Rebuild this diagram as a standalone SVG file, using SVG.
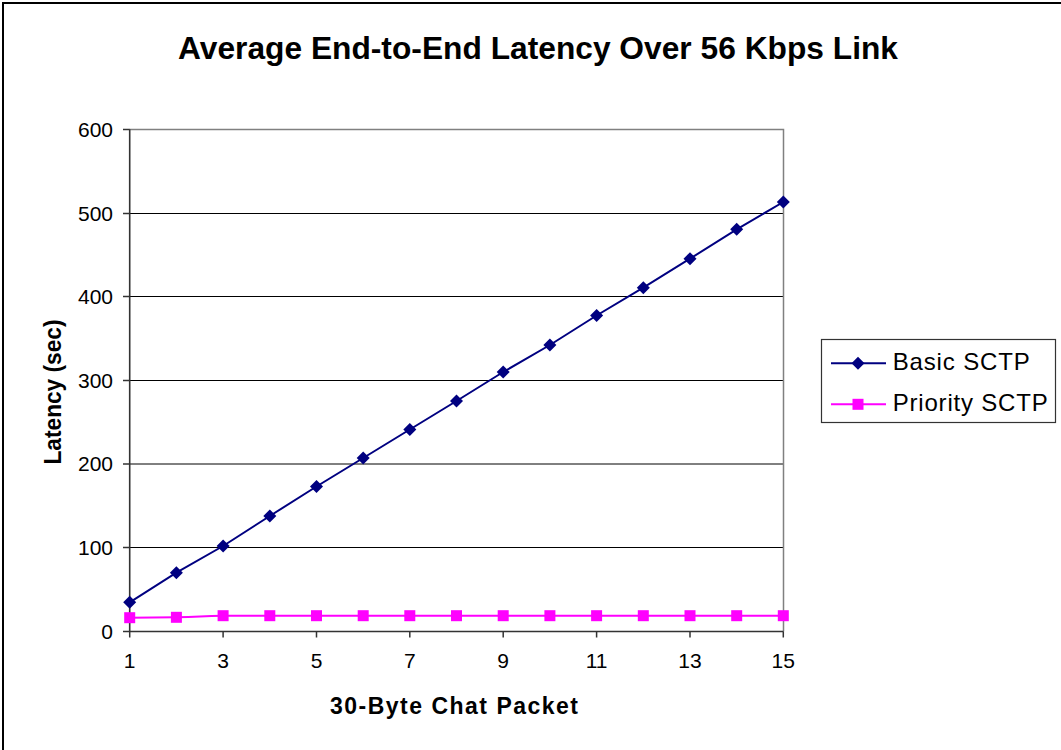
<svg xmlns="http://www.w3.org/2000/svg" width="1061" height="750" viewBox="0 0 1061 750">
<defs>
<style>
text{font-family:"Liberation Sans",Arial,sans-serif;fill:#000}
.tick{font-size:21px}
.ttl{font-size:32px;font-weight:bold}
.axt{font-size:23px;font-weight:bold}
.leg{font-size:24px}
.grid{stroke:#000;stroke-width:1}
.axis{stroke:#333;stroke-width:1.6;fill:none}
.basic{stroke:#000080;stroke-width:2;fill:none}
.prio{stroke:#FF00FF;stroke-width:2;fill:none}
</style>
<path id="dia" d="M0,-6.5 L6.5,0 L0,6.5 L-6.5,0 Z" fill="#000080"/>
<rect id="sq" x="-5.5" y="-5.5" width="11" height="11" fill="#FF00FF"/>
</defs>
<rect x="0" y="0" width="1061" height="750" fill="#fff"/>
<rect x="3" y="3" width="1100" height="800" fill="none" stroke="#000" stroke-width="2"/>
<g id="title"><text class="ttl" x="178" y="59" textLength="720" lengthAdjust="spacingAndGlyphs">Average End-to-End Latency Over 56 Kbps Link</text></g>
<g id="plot">
<line class="grid" x1="129.5" y1="547.5" x2="783.5" y2="547.5"/>
<line class="grid" x1="129.5" y1="464" x2="783.5" y2="464"/>
<line class="grid" x1="129.5" y1="380.5" x2="783.5" y2="380.5"/>
<line class="grid" x1="129.5" y1="296.5" x2="783.5" y2="296.5"/>
<line class="grid" x1="129.5" y1="213.5" x2="783.5" y2="213.5"/>
<path d="M129.5,129.5 H783.5 V631.5" fill="none" stroke="#808080" stroke-width="1.5"/>
<path class="axis" d="M129.7,129.3 V631.5 H783.5"/>
<g stroke="#333" stroke-width="1.5">
<line x1="123" y1="631.5" x2="129.7" y2="631.5"/>
<line x1="123" y1="547.5" x2="129.7" y2="547.5"/>
<line x1="123" y1="464" x2="129.7" y2="464"/>
<line x1="123" y1="380.5" x2="129.7" y2="380.5"/>
<line x1="123" y1="296.5" x2="129.7" y2="296.5"/>
<line x1="123" y1="213.5" x2="129.7" y2="213.5"/>
<line x1="123" y1="129.5" x2="129.7" y2="129.5"/>
<line x1="129.7" y1="631.5" x2="129.7" y2="637.5"/>
<line x1="223.1" y1="631.5" x2="223.1" y2="637.5"/>
<line x1="316.5" y1="631.5" x2="316.5" y2="637.5"/>
<line x1="409.8" y1="631.5" x2="409.8" y2="637.5"/>
<line x1="503.2" y1="631.5" x2="503.2" y2="637.5"/>
<line x1="596.6" y1="631.5" x2="596.6" y2="637.5"/>
<line x1="690" y1="631.5" x2="690" y2="637.5"/>
<line x1="783.3" y1="631.5" x2="783.3" y2="637.5"/>
</g>
<g class="tick" text-anchor="end">
<text x="113" y="638.5">0</text>
<text x="113" y="554.5">100</text>
<text x="113" y="471">200</text>
<text x="113" y="387.5">300</text>
<text x="113" y="303.5">400</text>
<text x="113" y="220.5">500</text>
<text x="113" y="136.5">600</text>
</g>
<g class="tick" text-anchor="middle">
<text x="129.7" y="668">1</text>
<text x="223.1" y="668">3</text>
<text x="316.5" y="668">5</text>
<text x="409.8" y="668">7</text>
<text x="503.2" y="668">9</text>
<text x="596.6" y="668">11</text>
<text x="690" y="668">13</text>
<text x="783.3" y="668">15</text>
</g>
</g>
<g id="axis-titles">
<text class="axt" x="330" y="714" textLength="248" lengthAdjust="spacing">30-Byte Chat Packet</text>
<text class="axt" transform="translate(61,392) rotate(-90)" text-anchor="middle" textLength="145" lengthAdjust="spacingAndGlyphs">Latency (sec)</text>
</g>
<g id="connectors">
<polyline class="basic" points="129.7,602.3 176.4,572.7 223.1,546 269.8,516 316.5,486.5 363.2,458 409.8,429.5 456.5,401 503.2,372 549.9,345 596.6,315.5 643.3,287.7 690,258.7 736.7,229.3 783.3,202"/>
<path class="prio" d="M129.7,617.7 L176.4,617.3 C200,617.3 200,615.7 223.1,615.7 L783.3,615.7"/>
</g>
<g id="basic-sctp">
<use href="#dia" x="129.7" y="602.3"/><use href="#dia" x="176.4" y="572.7"/><use href="#dia" x="223.1" y="546"/><use href="#dia" x="269.8" y="516"/><use href="#dia" x="316.5" y="486.5"/><use href="#dia" x="363.2" y="458"/><use href="#dia" x="409.8" y="429.5"/><use href="#dia" x="456.5" y="401"/><use href="#dia" x="503.2" y="372"/><use href="#dia" x="549.9" y="345"/><use href="#dia" x="596.6" y="315.5"/><use href="#dia" x="643.3" y="287.7"/><use href="#dia" x="690" y="258.7"/><use href="#dia" x="736.7" y="229.3"/><use href="#dia" x="783.3" y="202"/>
</g>
<g id="priority-sctp">
<use href="#sq" x="129.7" y="617.7"/><use href="#sq" x="176.4" y="617.3"/><use href="#sq" x="223.1" y="615.7"/><use href="#sq" x="269.8" y="615.7"/><use href="#sq" x="316.5" y="615.7"/><use href="#sq" x="363.2" y="615.7"/><use href="#sq" x="409.8" y="615.7"/><use href="#sq" x="456.5" y="615.7"/><use href="#sq" x="503.2" y="615.7"/><use href="#sq" x="549.9" y="615.7"/><use href="#sq" x="596.6" y="615.7"/><use href="#sq" x="643.3" y="615.7"/><use href="#sq" x="690" y="615.7"/><use href="#sq" x="736.7" y="615.7"/><use href="#sq" x="783.3" y="615.7"/>
</g>
<g id="legend">
<rect x="821.5" y="339.5" width="234" height="83" fill="#fff" stroke="#333" stroke-width="1.2"/>
<line class="basic" x1="831" y1="363.3" x2="886" y2="363.3"/>
<use href="#dia" x="858" y="363.3"/>
<text class="leg" x="892.7" y="369.5" textLength="137" lengthAdjust="spacing">Basic SCTP</text>
<line class="prio" x1="831" y1="404.3" x2="886" y2="404.3"/>
<use href="#sq" x="858" y="404.3"/>
<text class="leg" x="892.7" y="410.5" textLength="155" lengthAdjust="spacing">Priority SCTP</text>
</g>
</svg>
